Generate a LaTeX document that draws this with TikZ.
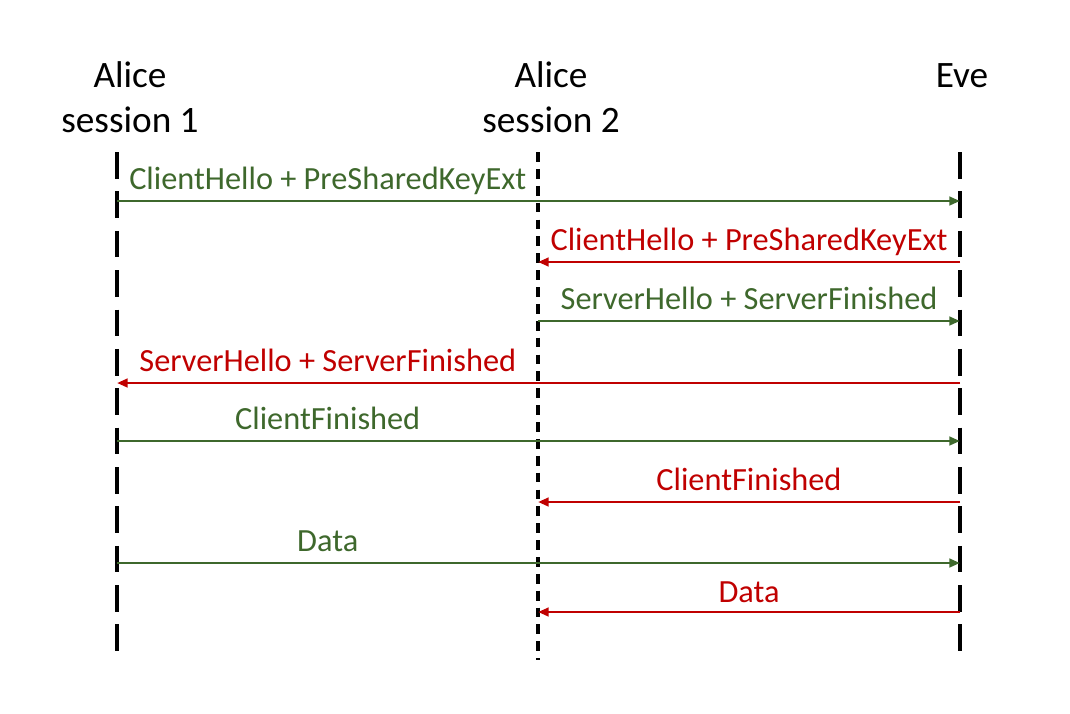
\documentclass[tikz,border=0pt]{standalone}
\usepackage{fontspec}
\setmainfont{Carlito}
\usepackage{tikz}
\usetikzlibrary{arrows.meta,positioning,calc}
\definecolor{okgreen}{RGB}{62,104,44}
\definecolor{evilred}{RGB}{192,0,0}

\begin{document}
\begin{tikzpicture}[x=0.025cm,y=-0.025cm,
  party/.style={align=center,font=\fontsize{26.5}{32}\selectfont},
  life/.style={line width=2.4pt,dash pattern=on 19pt off 9pt},
  lifeshort/.style={line width=2.4pt,dash pattern=on 7pt off 5pt},
  msg/.style={line width=1.9pt,-{Triangle[length=7.5pt,width=6pt]}},
  good/.style={msg,color=okgreen},
  bad/.style={msg,color=evilred},
  lbl/.style={anchor=base,yshift=8.5pt,font=\fontsize{23}{28}\selectfont}]
\useasboundingbox (0,0) rectangle (1070,713);

% participants
\node[party] (alice1) at (130,97.5) {Alice\\session 1};
\node[party] (alice2) at (551,97.5) {Alice\\session 2};
\node[party] (eve) at (962,76) {Eve};

% lifelines
\coordinate (a1top) at (117,152);
\coordinate (a1bot) at (117,660);
\coordinate (a2top) at (538,152);
\coordinate (a2bot) at (538,660);
\coordinate (evetop) at (960,152);
\coordinate (evebot) at (960,662);
\draw[life] (a1top) -- (a1bot);
\draw[lifeshort] (a2top) -- (a2bot);
\draw[life] (evetop) -- (evebot);

% message rows
\foreach \n/\y in {1/201,2/262,3/321,4/383,5/441,6/502,7/563,8/612}
  \coordinate (r\n) at (0,\y);

\draw[good] (a1top |- r1) -- node[lbl,pos=.25]{ClientHello + PreSharedKeyExt} (evetop |- r1);
\draw[bad] (evetop |- r2) -- node[lbl]{ClientHello + PreSharedKeyExt} (a2top |- r2);
\draw[good] (a2top |- r3) -- node[lbl]{ServerHello + ServerFinished} (evetop |- r3);
\draw[bad] (evetop |- r4) -- node[lbl,pos=.75]{ServerHello + ServerFinished} (a1top |- r4);
\draw[good] (a1top |- r5) -- node[lbl,pos=.25]{ClientFinished} (evetop |- r5);
\draw[bad] (evetop |- r6) -- node[lbl]{ClientFinished} (a2top |- r6);
\draw[good] (a1top |- r7) -- node[lbl,pos=.25]{Data} (evetop |- r7);
\draw[bad] (evetop |- r8) -- node[lbl,yshift=-2pt]{Data} (a2top |- r8);
\end{tikzpicture}
\end{document}
